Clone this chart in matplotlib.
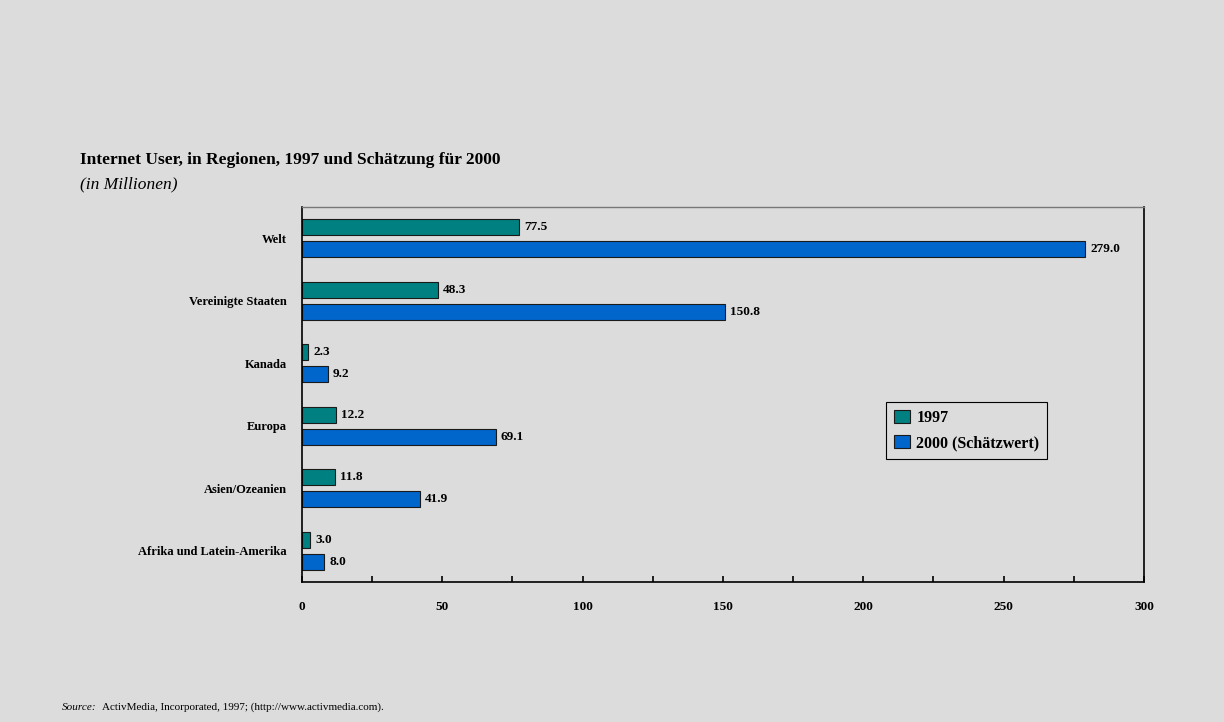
import matplotlib.pyplot as plt
import numpy as np

# Daten
regionen = ["Welt", "Vereinigte Staaten", "Kanada", "Europa",
            "Asien/Ozeanien", "Afrika und Latein-Amerika"]
werte_1997 = [77.5, 48.3, 2.3, 12.2, 11.8, 3.0]
werte_2000 = [279.0, 150.8, 9.2, 69.1, 41.9, 8.0]
x_ticks = [0, 50, 100, 150, 200, 250, 300]

bg = "#dcdcdc"
teal = "#008080"
blau = "#0066cc"
plt.rcParams["font.family"] = ["Liberation Serif", "DejaVu Serif"]

fig = plt.figure(figsize=(12.24, 7.22), dpi=100, facecolor=bg)
ax = fig.add_axes([0.2467, 0.1939, 0.6879, 0.5194], facecolor=bg)

y = np.arange(len(regionen))
h = 0.26
off = 0.175
ax.barh(y - off, werte_1997, height=h, color=teal, edgecolor="#1a1a1a",
        linewidth=0.8, label="1997")
ax.barh(y + off, werte_2000, height=h, color=blau, edgecolor="#1a1a1a",
        linewidth=0.8, label="2000 (Schätzwert)")

# Werte an den Balken
for yi, v in zip(y, werte_1997):
    ax.text(v + 1.8, yi - off, f"{v:.1f}", va="center", ha="left",
            fontsize=9.5, fontweight="bold")
for yi, v in zip(y, werte_2000):
    ax.text(v + 1.8, yi + off, f"{v:.1f}", va="center", ha="left",
            fontsize=9.5, fontweight="bold")

ax.set_xlim(0, 300)
ax.set_ylim(len(regionen) - 0.5, -0.5)
ax.set_xticks(x_ticks)
ax.set_xticks(np.arange(0, 301, 25), minor=True)
ax.set_xticklabels([str(t) for t in x_ticks], fontsize=9.5, fontweight="bold")
ax.tick_params(axis="x", which="both", direction="in", length=4, width=1.2,
               pad=14)
ax.set_yticks(y)
ax.set_yticklabels(regionen, fontsize=9, fontweight="bold")
ax.tick_params(axis="y", length=0, pad=11)

for side in ["left", "bottom", "right"]:
    ax.spines[side].set_color("black")
    ax.spines[side].set_linewidth(1.2)
ax.spines["top"].set_color("#777777")
ax.spines["top"].set_linewidth(1.0)

leg = ax.legend(loc="upper left", bbox_to_anchor=(0.6936, 0.48),
                borderaxespad=0, prop={"size": 11.5, "weight": "bold"},
                frameon=True, fancybox=False, edgecolor="black",
                facecolor=bg, framealpha=1, handlelength=1.0,
                handleheight=0.9, handletextpad=0.4, borderpad=0.5,
                labelspacing=0.55)
leg.get_frame().set_linewidth(0.8)

fig.text(0.0654, 0.778, "Internet User, in Regionen, 1997 und Schätzung für 2000",
         fontsize=12.5, fontweight="bold", ha="left", va="center")
fig.text(0.0654, 0.745, "(in Millionen)", fontsize=12.5, style="italic",
         ha="left", va="center")
fig.text(0.0507, 0.014, "Source:", fontsize=8, style="italic",
         ha="left", va="bottom")
fig.text(0.0835, 0.014, "ActivMedia, Incorporated, 1997; (http://www.activmedia.com).",
         fontsize=8, ha="left", va="bottom")

fig.savefig("out.png", dpi=100, facecolor=bg)
